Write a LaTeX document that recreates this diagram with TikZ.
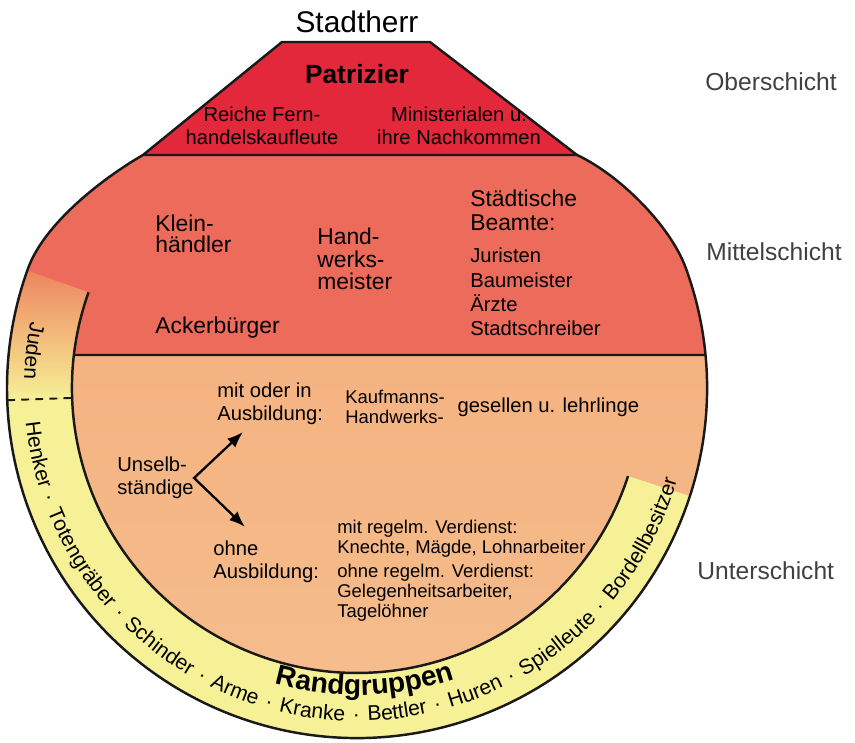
\documentclass[tikz,border=0pt]{standalone}
\usepackage{fontspec}
\setmainfont{Liberation Sans}
\usepackage{tikz}
\usetikzlibrary{arrows.meta, decorations.text, positioning}
\definecolor{patrot}{HTML}{E4283C}
\definecolor{mittelrot}{HTML}{EC6B5B}
\definecolor{unterorange}{HTML}{F3A976}
\definecolor{unterhell}{HTML}{F6BE8E}
\definecolor{randgelb}{HTML}{F6F196}
\definecolor{judenorange}{HTML}{EF9A62}
\newcommand{\bandfont}{\fontsize{12}{12}\selectfont}
\newcommand{\randfont}{\fontsize{16}{16}\selectfont\bfseries}

\begin{document}
\begin{tikzpicture}[
        x=0.02cm, y=0.02cm,
        outline/.style = {draw=black!90, line width=1.4pt},
        schicht/.style = {anchor=west, inner sep=0pt, font=\fontsize{14}{14}\selectfont, text=black!75},
        mtext/.style = {anchor=west, inner sep=0pt, align=left, font=\fontsize{13}{13}\selectfont},
        ptext/.style = {inner sep=0pt, align=center, font=\fontsize{11.5}{13}\selectfont},
        utext/.style = {anchor=west, inner sep=0pt, align=left, font=\fontsize{11.5}{13}\selectfont},
        stext/.style = {anchor=west, inner sep=0pt, align=left, font=\fontsize{10.5}{11.3}\selectfont},
        forkarrow/.style = {{Latex[length=3.2mm, width=2.4mm]}-{Latex[length=3.2mm, width=2.4mm]}, line width=1.3pt, line join=miter}
    ]
    \useasboundingbox (0,0) rectangle (855,743);
    \coordinate (C) at (357,355);

    % Mittelschicht (ganzer Koerper)
    \fill[mittelrot] (577,588) to[out=-25, in=110, looseness=0.75] ([shift={(20:350)}]C)
        arc[start angle=20, end angle=-200, radius=350]
        to[out=70, in=-150, looseness=0.75] (143,588) -- cycle;
    % Unterschicht
    \begin{scope}
        \clip (0,0) rectangle (855,388);
        \shade[top color=unterorange, bottom color=unterhell] (C) circle[radius=350];
    \end{scope}
    % Randgruppen-Band
    \fill[randgelb] ([shift={(182:350)}]C) arc[start angle=182, end angle=342, radius=350]
        -- ([shift={(342:285)}]C) arc[start angle=342, end angle=182, radius=285] -- cycle;
    \shade[top color=mittelrot!45!judenorange, bottom color=randgelb] ([shift={(160.4:350)}]C) arc[start angle=160.4, end angle=182, radius=350]
        -- ([shift={(182:285)}]C) arc[start angle=182, end angle=160.4, radius=285] -- cycle;

    % Linien
    \draw[outline] (577,588) to[out=-25, in=110, looseness=0.75] ([shift={(20:350)}]C)
        arc[start angle=20, end angle=-200, radius=350]
        to[out=70, in=-150, looseness=0.75] (143,588);
    \draw[outline] ([shift={(160.4:285)}]C) arc[start angle=160.4, end angle=342, radius=285];
    \draw[outline] ([shift={(173.35:285)}]C) -- ([shift={(5.41:350)}]C);
    \draw[outline, line width=1.1pt, dash pattern=on 4.5pt off 3.5pt] ([shift={(182:350)}]C) -- ([shift={(182:285)}]C);
    \filldraw[fill=patrot, outline, line join=round] (143,588) -- (282,701) -- (430,701) -- (577,588) -- cycle;

    % Beschriftung aussen
    \node (stadtherr) [inner sep=0pt, font=\fontsize{17}{17}\selectfont] at (357,721) {Stadtherr};
    \node (ober) [schicht] at (705,661) {Oberschicht};
    \node (mittel) [schicht] at (706,491) {Mittelschicht};
    \node (unter) [schicht] at (697,172) {Unterschicht};

    % Oberschicht
    \node (patrizier) [inner sep=0pt, font=\fontsize{15}{15}\selectfont\bfseries] at (357,669) {Patrizier};
    \node (fernhandel) [ptext] at (262,617) {Reiche Fern-\\handelskaufleute};
    \node (ministerial) [ptext] at (459,617) {Ministerialen u.\\ihre Nachkommen};

    % Mittelschicht
    \node (klein) [mtext, font=\fontsize{13}{12.3}\selectfont] at (155,509) {Klein-\\händler};
    \node (handwerk) [mtext] at (317,484) {Hand-\\werks-\\meister};
    \node (acker) [mtext] at (155,415) {Ackerbürger};
    \node (beamte) [mtext, font=\fontsize{13}{13.6}\selectfont] at (470,533) {Städtische\\Beamte:};
    \node (juristen) [mtext, font=\fontsize{11.5}{13.8}\selectfont] at (470,451) {Juristen\\Baumeister\\Ärzte\\Stadtschreiber};

    % Unterschicht
    \node (unselb) [utext] at (117,265) {Unselb-\\ständige};
    \node (mitaus) [utext] at (217,339) {mit oder in\\Ausbildung:};
    \node (kaufmann) [stext] at (345,336) {Kaufmanns-\\Handwerks-};
    \node (gesellen) [utext, right=0.24cm of kaufmann] {gesellen u. lehrlinge};
    \node (ohne) [utext] at (213,181) {ohne\\Ausbildung:};
    \node (regelm) [stext] at (337,204) {mit regelm. Verdienst:\\Knechte, Mägde, Lohnarbeiter};
    \node (unregelm) [stext] at (337,150) {ohne regelm. Verdienst:\\Gelegenheitsarbeiter,\\Tagelöhner};
    \coordinate (auf) at (243,311);
    \coordinate (ab) at (245,216);
    \draw[forkarrow] (auf) -- (unselb.east) -- (ab);

    % Randgruppen
    \path[decorate, decoration={text along path, text align=center, text={|\randfont|Randgruppen}}]
        ([shift={(245:307)}]C) arc[start angle=245, end angle=298, radius=307];
    \path[decorate, decoration={text along path, text align={fit to path stretching spaces},
        text={|\bandfont|Henker · Totengräber · Schinder · Arme · Kranke · Bettler · Huren · Spielleute · Bordellbesitzer}}]
        ([shift={(186:333)}]C) arc[start angle=186, end angle=344, radius=333];
    \path[decorate, decoration={text along path, text align=center, text={|\bandfont|Juden}}]
        ([shift={(163.5:333)}]C) arc[start angle=163.5, end angle=183.5, radius=333];

\end{tikzpicture}
\end{document}
